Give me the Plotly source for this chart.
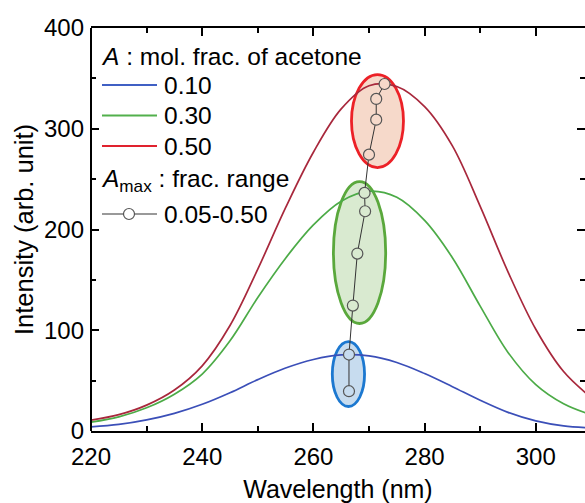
import plotly.graph_objects as go

# Emission spectra at three acetone mole fractions (A)
wavelength = [220, 225, 230, 235, 240, 245, 250, 255, 260, 265,
              270, 275, 280, 285, 290, 295, 300, 305, 310]
int_a010 = [4.0, 6.5, 11.0, 17.5, 26.5, 38.0, 51.0, 62.5, 71.0, 75.5,
            74.5, 68.0, 57.0, 44.0, 30.5, 18.5, 10.0, 5.0, 3.0]
int_a030 = [8.7, 14.0, 23.0, 36.5, 56.5, 89.5, 132.5, 171.5, 204.5, 228.0,
            238.0, 232.0, 209.0, 172.0, 124.0, 78.0, 46.0, 27.0, 16.0]
int_a050 = [10.7, 16.2, 25.7, 40.7, 64.7, 104.7, 160.7, 221.7, 276.7, 319.7,
            342.7, 342.0, 322.0, 283.0, 223.0, 158.0, 101.0, 59.0, 33.0]

# Peak position / intensity for A = 0.05 ... 0.50
fraction = [0.05, 0.10, 0.15, 0.20, 0.25, 0.30, 0.35, 0.40, 0.45, 0.50]
peak_wl = [266.4, 266.4, 267.1, 267.9, 269.3, 269.2, 270.0, 271.3, 271.3, 272.8]
peak_int = [39.5, 75.9, 124.5, 176.1, 218.1, 236.3, 274.3, 309.0, 329.6, 344.4]

series_labels = ["0.10", "0.30", "0.50"]

FONT = "Liberation Sans, Arial, sans-serif"
W, H = 585, 503
M_L, M_R, M_T, M_B = 91, 0, 28, 72
PW, PH = W - M_L - M_R, H - M_T - M_B
X_RANGE = [220, 308.85]
Y_RANGE = [0, 400]


def px(x):
    return (x - M_L) / PW


def py(y):
    return (H - M_B - y) / PH


curve_colors = ["#3b4fb8", "#4cab47", "#a8283c"]
legend_colors = ["#4060c4", "#52b04c", "#e0222e"]
fill_colors = ["#c7dcef", "#d9ead0", "#f6d9ca"]
edge_colors = ["#1c78d0", "#5aa83c", "#ec2127"]

fig = go.Figure()

for vals, col in zip([int_a010, int_a030, int_a050], curve_colors):
    fig.add_trace(go.Scatter(
        x=wavelength, y=vals, mode="lines",
        line=dict(color=col, width=1.7, shape="spline", smoothing=1.0),
        hoverinfo="skip", showlegend=False,
    ))


def group_of(a):
    if a <= 0.10:
        return 0
    if a <= 0.30:
        return 1
    return 2


marker_fill = [fill_colors[group_of(a)] for a in fraction]

fig.add_trace(go.Scatter(
    x=peak_wl, y=peak_int, mode="lines+markers",
    line=dict(color="#333333", width=1),
    marker=dict(symbol="circle", size=11, color=marker_fill,
                line=dict(color="#555555", width=1.2)),
    showlegend=False,
))

shapes = []
# highlight ellipses around each group of peaks
ellipses = [
    (263.4, 269.2, 24.3, 88.8),
    (263.6, 273.0, 106.7, 247.6),
    (266.85, 276.2, 261.5, 353.8),
]
for (x0, x1, y0, y1), fc, ec in zip(ellipses, fill_colors, edge_colors):
    shapes.append(dict(type="circle", xref="x", yref="y", layer="below",
                       x0=x0, x1=x1, y0=y0, y1=y1,
                       fillcolor=fc, line=dict(color=ec, width=2.8)))

# left frame line (right side keeps only mirrored ticks)
shapes.append(dict(type="line", xref="paper", yref="paper", layer="above",
                   x0=0, x1=0, y0=0, y1=1, line=dict(color="black", width=2)))

leg_font = dict(family=FONT, size=24.5, color="black")
annotations = []
annotations.append(dict(xref="paper", yref="paper", x=px(99), y=py(56),
                        xanchor="left", yanchor="middle", showarrow=False,
                        text="<i>A</i> : mol. frac. of acetone", font=leg_font))
for i, (lab, col) in enumerate(zip(series_labels, legend_colors)):
    yy = 85 + i * 30.5
    shapes.append(dict(type="line", xref="paper", yref="paper",
                       x0=px(102), x1=px(157), y0=py(yy), y1=py(yy),
                       line=dict(color=col, width=1.8)))
    annotations.append(dict(xref="paper", yref="paper", x=px(162), y=py(yy),
                            xanchor="left", yanchor="middle", showarrow=False,
                            text=lab, font=leg_font))

annotations.append(dict(xref="paper", yref="paper", x=px(99), y=py(180),
                        xanchor="left", yanchor="middle", showarrow=False,
                        text="<i>A</i><sub>max</sub> : frac. range",
                        font=leg_font))
yy = 214
shapes.append(dict(type="line", xref="paper", yref="paper",
                   x0=px(102), x1=px(123), y0=py(yy), y1=py(yy),
                   line=dict(color="#555555", width=1.2)))
shapes.append(dict(type="line", xref="paper", yref="paper",
                   x0=px(135), x1=px(157), y0=py(yy), y1=py(yy),
                   line=dict(color="#555555", width=1.2)))
shapes.append(dict(type="circle", xref="paper", yref="paper",
                   x0=px(123.5), x1=px(134.5), y0=py(yy + 5.5), y1=py(yy - 5.5),
                   fillcolor="white", line=dict(color="#555555", width=1.2)))
annotations.append(dict(xref="paper", yref="paper", x=px(162), y=py(yy),
                        xanchor="left", yanchor="middle", showarrow=False,
                        text="0.05-0.50", font=leg_font))

tick_font = dict(family=FONT, size=24, color="black")

fig.update_layout(
    width=W, height=H,
    margin=dict(l=M_L, r=M_R, t=M_T, b=M_B, pad=0),
    paper_bgcolor="white", plot_bgcolor="white",
    showlegend=False,
    shapes=shapes, annotations=annotations,
    xaxis=dict(
        range=X_RANGE, tick0=220, dtick=20,
        ticks="inside", ticklen=8, tickwidth=1.5, tickcolor="black",
        minor=dict(dtick=10, ticks="inside", ticklen=5, tickwidth=1.5,
                   tickcolor="black"),
        showline=True, linewidth=2, linecolor="black", mirror="ticks",
        showgrid=False, zeroline=False,
        tickfont=tick_font, ticklabelstandoff=3,
        title=dict(text="Wavelength (nm)",
                   font=dict(family=FONT, size=25, color="black"),
                   standoff=14),
    ),
    yaxis=dict(
        range=Y_RANGE, tick0=0, dtick=100,
        ticks="inside", ticklen=8, tickwidth=1.5, tickcolor="black",
        minor=dict(dtick=50, ticks="inside", ticklen=5, tickwidth=1.5,
                   tickcolor="black"),
        showline=False, mirror="ticks",
        showgrid=False, zeroline=False,
        tickfont=tick_font, ticklabelstandoff=6,
        title=dict(text="Intensity (arb. unit)",
                   font=dict(family=FONT, size=25.5, color="black"),
                   standoff=3),
    ),
)

fig.write_html("out.html")
